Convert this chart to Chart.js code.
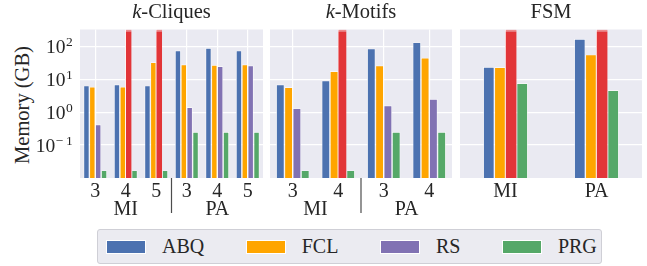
<!DOCTYPE html>
<html>
<head>
<meta charset="utf-8">
<script src="https://cdn.jsdelivr.net/npm/chart.js@4.4.1/dist/chart.umd.min.js"></script>
<style>
  body { margin: 0; width: 647px; height: 266px; overflow: hidden; position: relative; background: #fff;
         font-family: 'Liberation Serif', 'Times New Roman', serif; color: #262626; }
  canvas { position: absolute; top: 0; }
  .title { position: absolute; top: 0px; font-size: 20.5px; text-align: center; white-space: nowrap; }
  .ylabel { position: absolute; left: 22px; top: 105px; font-size: 20.5px; white-space: nowrap;
            transform: translate(-50%, -50%) rotate(-90deg); }
  .legend { position: absolute; left: 97px; top: 229px; width: 505px; height: 35px; box-sizing: border-box;
            border: 1px solid #cfcfd6; border-radius: 3px; background: #ebebf1;
            display: flex; align-items: center; padding-left: 8px; }
  .item { display: flex; align-items: center; margin-right: 41.5px; font-size: 20px; }
  .sw { width: 40px; height: 14px; margin-right: 16px; box-sizing: border-box; border: 1px solid #fff; }
</style>
</head>
<body>
<div class="ylabel">Memory (GB)</div>
<canvas id="c1" width="268" height="220" style="left:0px"></canvas>
<canvas id="c2" width="198" height="220" style="left:262px"></canvas>
<canvas id="c3" width="195" height="220" style="left:452px"></canvas>
<div class="title" id="t1"><i>k</i>-Cliques</div>
<div class="title" id="t2"><i>k</i>-Motifs</div>
<div class="title" id="t3">FSM</div>
<div class="legend" id="legend"></div>
<script>
const FONT = "'Liberation Serif', 'Times New Roman', serif"
const TEXT = '#262626'
const YMIN = 0.01
const YMAX = 325
const OOM = 325   // ran out of memory, bar runs off the top

const seriesNames = ['ABQ', 'FCL', 'RS', 'PRG']
const seriesColors = ['#4c72b0', '#ffa500', '#8172b3', '#55a868']
const oomColor = '#e23538'

// k-Cliques
const cliqueK = ['3', '4', '5', '3', '4', '5']
const cliqueGraph = ['MI', 'MI', 'MI', 'PA', 'PA', 'PA']
const cliqueABQ = [6.4, 6.9, 6.4, 75, 89, 74]
const cliqueFCL = [5.9, 5.9, 33, 28, 27, 28]
const cliqueRS = [0.42, OOM, OOM, 1.4, 24.7, 26]
const cliquePRG = [0.017, 0.017, 0.017, 0.25, 0.25, 0.25]

// k-Motifs
const motifK = ['3', '4', '3', '4']
const motifGraph = ['MI', 'MI', 'PA', 'PA']
const motifABQ = [6.9, 9.1, 85, 132]
const motifFCL = [5.7, 17.4, 26, 45]
const motifRS = [1.3, OOM, 1.6, 2.5]
const motifPRG = [0.017, 0.017, 0.25, 0.25]

// FSM
const fsmGraph = ['MI', 'PA']
const fsmABQ = [23.5, 167]
const fsmFCL = [23, 56]
const fsmRS = [OOM, OOM]
const fsmPRG = [7.5, 4.6]

const bgPlugin = {
    id: 'bg',
    beforeDraw(chart) {
        const a = chart.chartArea
        chart.ctx.save()
        chart.ctx.fillStyle = '#eaeaf2'
        chart.ctx.fillRect(a.left, a.top, a.width, a.height)
        chart.ctx.restore()
    }
}

// "10^k" tick labels for the first panel
const yLabelPlugin = {
    id: 'ylabels',
    afterDraw(chart, args, opts) {
        if (!opts.show) return
        const ctx = chart.ctx
        const y = chart.scales.y
        const right = chart.chartArea.left - 7.3
        ctx.save()
        ctx.fillStyle = TEXT
        ctx.textAlign = 'right'
        ctx.textBaseline = 'alphabetic'
        y.ticks.forEach(t => {
            const exp = Math.round(Math.log10(t.value))
            const py = y.getPixelForValue(t.value)
            const sup = exp < 0 ? '\u2212\u2009' + (-exp) : String(exp)
            ctx.font = '13.5px ' + FONT
            ctx.fillText(sup, right, py)
            const w = ctx.measureText(sup).width
            ctx.font = '19.5px ' + FONT
            ctx.fillText('10', right - w - 0.5, py + 6.6)
        })
        ctx.restore()
    }
}

// graph names under the k ticks, with separators
const groupPlugin = {
    id: 'groups',
    afterDraw(chart, args, opts) {
        const groups = opts.groups
        if (!groups) return
        const ctx = chart.ctx
        const x = chart.scales.x
        const bottom = chart.chartArea.bottom
        let runs = []
        groups.forEach((g, i) => {
            if (runs.length && runs[runs.length - 1].name === g) runs[runs.length - 1].to = i
            else runs.push({ name: g, from: i, to: i })
        })
        ctx.save()
        ctx.fillStyle = TEXT
        ctx.font = '20px ' + FONT
        ctx.textAlign = 'center'
        ctx.textBaseline = 'alphabetic'
        runs.forEach((r, j) => {
            const cx = (x.getPixelForValue(r.from) + x.getPixelForValue(r.to)) / 2
            ctx.fillText(r.name, cx, 215)
            if (j > 0) {
                const sx = (x.getPixelForValue(r.from - 1) + x.getPixelForValue(r.from)) / 2
                ctx.strokeStyle = '#4d4d4d'
                ctx.lineWidth = 1.2
                ctx.beginPath()
                ctx.moveTo(sx, bottom)
                ctx.lineTo(sx, bottom + 35)
                ctx.stroke()
            }
        })
        ctx.restore()
    }
}

function makeChart(id, labels, groups, values, pad, frac, showY) {
    let datasets = values.map((vals, i) => ({
        label: seriesNames[i],
        data: vals,
        backgroundColor: c => c.raw >= OOM ? oomColor : seriesColors[i],
        borderColor: c => c.raw >= OOM ? '#ee8a8c' : '#ffffff',
        borderWidth: c => c.raw >= OOM ? { top: 2, left: 0, right: 0, bottom: 0 } : 0.7,
        categoryPercentage: frac,
        barPercentage: 1
    }))
    return new Chart(document.getElementById(id).getContext('2d'), {
        type: 'bar',
        data: { labels: labels, datasets: datasets },
        options: {
            responsive: false,
            animation: false,
            layout: { padding: { left: pad[0], right: pad[1], top: 29.5, bottom: 0 } },
            plugins: {
                legend: { display: false },
                tooltip: { enabled: false },
                ylabels: { show: showY },
                groups: { groups: groups }
            },
            scales: {
                x: {
                    offset: true,
                    grid: { offset: false, color: '#ffffff', lineWidth: 1.2, drawTicks: false },
                    border: { display: false },
                    ticks: { color: TEXT, font: { family: FONT, size: 20 }, padding: 2, maxRotation: 0, autoSkip: false },
                    afterFit: s => { s.height = 42 }
                },
                y: {
                    type: 'logarithmic',
                    min: YMIN,
                    max: YMAX,
                    grid: { color: '#ffffff', lineWidth: 1.2, drawTicks: false },
                    border: { display: false },
                    ticks: { display: false },
                    afterBuildTicks: s => { s.ticks = [0.1, 1, 10, 100].map(v => ({ value: v })) },
                    afterFit: s => { s.width = 0 }
                }
            }
        },
        plugins: [bgPlugin, yLabelPlugin, groupPlugin]
    })
}

function main() {
    let charts = [
        makeChart('c1', cliqueK, cliqueGraph, [cliqueABQ, cliqueFCL, cliqueRS, cliquePRG], [80, 5], 0.77, true),
        makeChart('c2', motifK, motifGraph, [motifABQ, motifFCL, motifRS, motifPRG], [8, 8], 0.73, false),
        makeChart('c3', fsmGraph, null, [fsmABQ, fsmFCL, fsmRS, fsmPRG], [8, 5], 0.49, false)
    ]

    // center the titles over each plot area
    charts.forEach((ch, i) => {
        let t = document.getElementById('t' + (i + 1))
        let a = ch.chartArea
        t.style.left = (ch.canvas.offsetLeft + a.left) + 'px'
        t.style.width = a.width + 'px'
    })

    let legend = document.getElementById('legend')
    legend.innerHTML = seriesNames.map((n, i) =>
        `<div class="item"><div class="sw" style="background:${seriesColors[i]}"></div>${n}</div>`).join('')
}

main()
</script>
</body>
</html>
